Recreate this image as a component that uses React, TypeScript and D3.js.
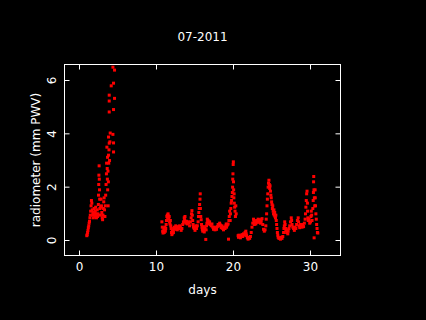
import React from 'react';
import * as d3 from 'd3';

const title = '07-2011';
const xLabel = 'days';
const yLabel = 'radiometer (mm PWV)';
const dayTicks = [0, 10, 20, 30];
const pwvTicks = [0, 2, 4, 6];

// [day, pwv] readings
const earlyReadings: [number, number][] = [
  [0.95, 0.18], [1.0, 0.22], [1.05, 0.3], [1.1, 0.38], [1.15, 0.48], [1.2, 0.55], [1.25, 0.65], [1.3, 0.72],
  [1.35, 0.85], [1.4, 0.95], [1.45, 1.1], [1.5, 1.3], [1.55, 1.5], [1.6, 1.4], [1.65, 1.15], [1.7, 0.95],
  [1.75, 1.05], [1.8, 0.85], [1.85, 1.0], [1.9, 1.2], [1.95, 1.05], [2.0, 0.9], [2.05, 1.1], [2.1, 1.25],
  [2.15, 1.0], [2.2, 0.85], [2.25, 0.95], [2.3, 1.15], [2.35, 0.9], [2.4, 1.0], [2.45, 1.35], [2.47, 1.7],
  [2.5, 2.1], [2.52, 2.45], [2.55, 2.8], [2.57, 2.3], [2.6, 1.9], [2.62, 1.55], [2.65, 1.2], [2.7, 0.95],
  [2.75, 1.25], [2.8, 1.55], [2.85, 1.3], [2.9, 1.05], [2.95, 0.85], [3.0, 0.78], [3.05, 0.95], [3.1, 1.2],
  [3.15, 1.45], [3.2, 1.6], [3.25, 1.15], [3.3, 0.9], [3.35, 1.3], [3.4, 1.7], [3.45, 2.1], [3.5, 2.5],
  [3.52, 2.9], [3.56, 3.5], [3.6, 2.7], [3.62, 2.3], [3.64, 3.12], [3.66, 1.9], [3.7, 2.6], [3.72, 1.3],
  [3.75, 2.2], [3.77, 3.2], [3.77, 3.88], [3.8, 2.9], [3.83, 3.4], [3.86, 3.65], [3.86, 4.82], [3.86, 5.23],
  [3.86, 5.45], [3.9, 3.0], [3.95, 3.7], [3.99, 4.03], [4.12, 5.8], [4.34, 3.98], [4.34, 6.5], [4.42, 3.32],
  [4.42, 3.66], [4.42, 4.91], [4.42, 5.9], [4.55, 5.33], [4.55, 6.39],
];

const midReadings: [number, number][] = [
  [10.7, 0.7], [10.75, 0.5], [10.8, 0.35], [10.85, 0.28], [10.9, 0.32], [10.95, 0.45], [11.0, 0.3], [11.05, 0.38],
  [11.1, 0.5], [11.15, 0.35], [11.2, 0.45], [11.25, 0.6], [11.3, 0.75], [11.35, 0.9], [11.4, 0.95], [11.45, 0.85],
  [11.5, 1.0], [11.55, 0.92], [11.6, 0.8], [11.65, 0.9], [11.7, 0.7], [11.75, 0.62], [11.8, 0.75], [11.85, 0.55],
  [11.9, 0.45], [11.95, 0.3], [12.0, 0.22], [12.05, 0.35], [12.1, 0.28], [12.15, 0.4], [12.2, 0.3], [12.25, 0.45],
  [12.3, 0.5], [12.4, 0.42], [12.5, 0.55], [12.6, 0.48], [12.7, 0.4], [12.8, 0.52], [12.9, 0.45], [13.0, 0.55],
  [13.1, 0.5], [13.2, 0.38], [13.3, 0.45], [13.4, 0.6], [13.5, 0.7], [13.6, 0.85], [13.65, 0.78], [13.7, 0.9],
  [13.75, 0.72], [13.8, 0.65], [13.9, 0.72], [14.0, 0.62], [14.1, 0.7], [14.2, 0.66], [14.3, 0.55], [14.4, 0.7],
  [14.5, 0.85], [14.55, 1.0], [14.6, 1.12], [14.65, 0.95], [14.7, 0.75], [14.75, 0.6], [14.8, 0.5], [14.9, 0.45],
  [15.0, 0.38], [15.05, 0.48], [15.1, 0.55], [15.2, 0.45], [15.3, 0.55], [15.4, 0.7], [15.45, 0.9], [15.5, 1.05],
  [15.55, 1.2], [15.6, 1.35], [15.65, 1.55], [15.68, 1.75], [15.7, 1.2], [15.75, 0.9], [15.8, 0.78], [15.85, 0.6],
  [15.9, 0.5], [15.95, 0.42], [16.0, 0.35], [16.05, 0.45], [16.1, 0.52], [16.15, 0.38], [16.2, 0.32], [16.3, 0.45],
  [16.4, 0.04], [16.45, 0.4], [16.5, 0.55], [16.55, 0.65], [16.6, 0.8], [16.65, 0.7], [16.7, 0.75], [16.8, 0.62],
  [16.9, 0.7], [17.0, 0.6], [17.1, 0.55], [17.2, 0.62], [17.3, 0.5], [17.4, 0.42], [17.5, 0.5], [17.6, 0.4],
  [17.7, 0.48], [17.8, 0.42], [17.9, 0.52], [18.0, 0.6], [18.1, 0.55], [18.2, 0.65], [18.3, 0.58], [18.4, 0.48],
  [18.5, 0.55], [18.6, 0.45], [18.7, 0.4], [18.8, 0.5], [18.9, 0.45], [19.0, 0.55], [19.05, 0.62], [19.1, 0.5],
  [19.2, 0.58], [19.3, 0.62], [19.35, 0.05], [19.4, 0.75], [19.45, 0.9], [19.5, 1.1], [19.57, 0.75], [19.6, 1.0],
  [19.65, 1.2], [19.7, 1.4], [19.75, 1.5], [19.8, 1.65], [19.85, 1.8], [19.88, 2.0], [19.9, 2.3], [19.93, 2.5],
  [19.96, 2.85], [19.98, 2.95], [20.0, 2.2], [20.02, 1.9], [20.05, 1.6], [20.08, 1.75], [20.1, 1.4], [20.15, 1.25],
  [20.2, 1.1], [20.25, 0.9], [20.3, 1.3], [20.35, 1.0],
];

const lateReadings: [number, number][] = [
  [20.6, 0.18], [20.65, 0.12], [20.7, 0.2], [20.8, 0.15], [20.9, 0.1], [21.0, 0.18], [21.1, 0.22], [21.2, 0.15],
  [21.3, 0.25], [21.4, 0.2], [21.5, 0.3], [21.6, 0.35], [21.65, 0.25], [21.7, 0.18], [21.8, 0.1], [21.9, 0.05],
  [22.0, 0.12], [22.1, 0.08], [22.2, 0.15], [22.3, 0.3], [22.4, 0.5], [22.5, 0.65], [22.6, 0.8], [22.65, 0.72],
  [22.7, 0.6], [22.8, 0.7], [22.9, 0.62], [23.0, 0.75], [23.1, 0.68], [23.2, 0.8], [23.3, 0.7], [23.4, 0.78],
  [23.5, 0.65], [23.6, 0.72], [23.7, 0.82], [23.8, 0.6], [23.9, 0.42], [24.0, 0.35], [24.1, 0.4], [24.2, 0.55],
  [24.25, 0.8], [24.3, 1.0], [24.35, 1.3], [24.4, 1.55], [24.45, 1.75], [24.5, 2.0], [24.55, 2.15], [24.6, 2.26],
  [24.65, 2.1], [24.7, 1.95], [24.75, 2.05], [24.8, 1.85], [24.85, 1.7], [24.9, 1.6], [24.95, 1.45], [25.0, 1.35],
  [25.05, 1.2], [25.1, 1.3], [25.15, 1.1], [25.2, 1.0], [25.25, 1.15], [25.3, 0.95], [25.35, 1.05], [25.4, 0.9],
  [25.45, 0.85], [25.5, 0.95], [25.55, 0.75], [25.6, 0.6], [25.65, 0.45], [25.7, 0.3], [25.75, 0.2], [25.8, 0.12],
  [25.9, 0.08], [26.0, 0.1], [26.1, 0.05], [26.2, 0.12], [26.3, 0.08], [26.4, 0.15], [26.5, 0.3], [26.55, 0.45],
  [26.6, 0.55], [26.65, 0.7], [26.7, 0.6], [26.75, 0.45], [26.8, 0.38], [26.9, 0.3], [27.0, 0.4], [27.05, 0.25],
  [27.1, 0.35], [27.2, 0.45], [27.3, 0.55], [27.4, 0.7], [27.5, 0.85], [27.55, 0.75], [27.6, 0.6], [27.7, 0.5],
  [27.8, 0.45], [27.9, 0.38], [28.0, 0.5], [28.1, 0.45], [28.2, 0.6], [28.3, 0.75], [28.4, 0.85], [28.45, 0.7],
  [28.5, 0.55], [28.6, 0.48], [28.7, 0.6], [28.8, 0.55], [28.9, 0.5], [29.0, 0.6], [29.1, 0.52], [29.2, 0.65],
  [29.3, 0.8], [29.35, 1.0], [29.4, 1.25], [29.45, 1.5], [29.5, 1.75], [29.55, 1.85], [29.6, 1.4], [29.62, 1.1],
  [29.65, 0.85], [29.7, 0.75], [29.8, 0.8], [29.9, 0.65], [30.0, 0.7], [30.05, 0.9], [30.1, 1.1], [30.15, 0.95],
  [30.2, 0.75], [30.3, 1.2], [30.35, 1.5], [30.38, 1.8], [30.4, 2.2], [30.42, 2.4], [30.45, 1.9], [30.47, 0.1],
  [30.5, 1.6], [30.55, 1.3], [30.6, 1.9], [30.62, 1.6], [30.65, 1.3], [30.7, 1.0], [30.75, 0.8], [30.8, 0.6],
  [30.85, 0.45], [30.9, 0.3], [30.95, 0.28],
];

const width = 426;
const height = 320;

export default function App() {
  const x = d3.scaleLinear().domain([-1.948, 33.896]).range([64.5, 340.5]);
  const y = d3.scaleLinear().domain([-0.5625, 6.6]).range([255.5, 64.5]);
  const [x0, x1] = x.range();
  const [yb, yt] = y.range();
  const readings = [...earlyReadings, ...midReadings, ...lateReadings];
  const font = { fontFamily: '"DejaVu Sans", sans-serif', fontSize: 12, fill: '#fff' };
  const tick = 5;
  const dot = 3;

  return (
    <div style={{ position: 'absolute', left: 0, top: 0 }}>
      <svg width={width} height={height} style={{ display: 'block' }}>
        <rect width={width} height={height} fill="#000" />
        <g fill="#f00">
          {readings.map(([d, v], i) => (
            <rect key={i} x={x(d) - dot / 2} y={y(v) - dot / 2} width={dot} height={dot} />
          ))}
        </g>
        <rect x={x0} y={yt} width={x1 - x0} height={yb - yt} fill="none" stroke="#fff" strokeWidth={1} />
        {dayTicks.map((t) => (
          <g key={'x' + t}>
            <line x1={Math.round(x(t) - 0.5) + 0.5} x2={Math.round(x(t) - 0.5) + 0.5} y1={yb} y2={yb - tick} stroke="#fff" />
            <line x1={Math.round(x(t) - 0.5) + 0.5} x2={Math.round(x(t) - 0.5) + 0.5} y1={yt} y2={yt + tick} stroke="#fff" />
            <text x={x(t)} y={271} textAnchor="middle" {...font}>{t}</text>
          </g>
        ))}
        {pwvTicks.map((t) => (
          <g key={'y' + t}>
            <line x1={x0} x2={x0 + tick} y1={y(t)} y2={y(t)} stroke="#fff" />
            <line x1={x1} x2={x1 - tick} y1={y(t)} y2={y(t)} stroke="#fff" />
            <text transform={`translate(56,${y(t)}) rotate(-90)`} textAnchor="middle" {...font}>{t}</text>
          </g>
        ))}
        <text x={(x0 + x1) / 2} y={41} textAnchor="middle" {...font}>{title}</text>
        <text x={(x0 + x1) / 2} y={294} textAnchor="middle" {...font}>{xLabel}</text>
        <text transform={`translate(40,${(yb + yt) / 2}) rotate(-90)`} textAnchor="middle" {...font}>{yLabel}</text>
      </svg>
    </div>
  );
}
